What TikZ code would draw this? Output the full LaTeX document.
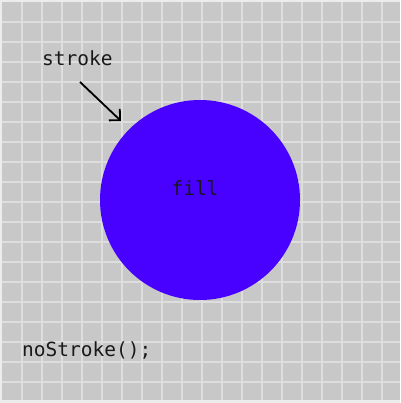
\documentclass[tikz,border=0pt]{standalone}
\usepackage{fontspec}
\newfontfamily\codefont{DejaVu Sans Mono}
\usetikzlibrary{arrows.meta}
\definecolor{canvas}{RGB}{200,200,200}
\definecolor{gridline}{RGB}{222,222,222}
\definecolor{frame}{RGB}{236,236,236}
\definecolor{violet}{RGB}{72,0,255}
\tikzset{
  code/.style={font=\codefont\fontsize{19.5}{22}\selectfont, text=black!90, inner sep=0pt},
}
\begin{document}
\begin{tikzpicture}[x=1pt, y=-1pt]
\useasboundingbox (0,0) rectangle (400,403);
%%%%% Canvas %%%%%
\fill[frame] (0,0) rectangle (400,403);
\fill[canvas] (2,2) rectangle (400,400);
\foreach \i in {22,42,...,382}{
\draw[gridline, line width=1.2pt] (\i,2)--(\i,400);
\draw[gridline, line width=1.2pt] (2,\i)--(400,\i);
}
%%%%% Shape %%%%%
\node[circle, fill=violet, minimum size=200pt, inner sep=0pt] (disc) at (200,200) {};
\node[code, anchor=base] (fill) at (195,195) {fill};
%%%%% Labels %%%%%
\node[code, anchor=base west] (stroke) at (42,66) {stroke};
\coordinate (tip) at (121,121);
\draw[line width=1.8pt, -{Straight Barb[length=8pt, width=16pt]}] (80,82) -- (tip);
\node[code, anchor=base west] (call) at (22,356) {noStroke();};
\end{tikzpicture}
\end{document}
